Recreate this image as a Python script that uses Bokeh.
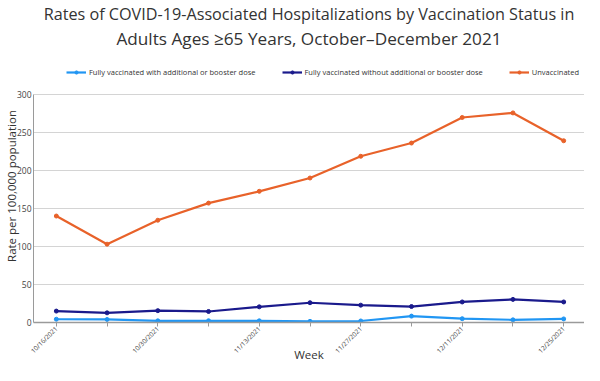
import math
from bokeh.plotting import figure
from bokeh.models import Title, Legend, LegendItem, FixedTicker, Range1d
from bokeh.embed import file_html
from bokeh.resources import INLINE

weeks = ["10/16/2021", "10/23/2021", "10/30/2021", "11/6/2021", "11/13/2021", "11/20/2021",
         "11/27/2021", "12/4/2021", "12/11/2021", "12/18/2021", "12/25/2021"]
booster = [4.3, 4.0, 2.2, 2.3, 2.2, 1.5, 2.0, 8.4, 5.0, 3.5, 4.7]
no_booster = [15.0, 12.7, 15.6, 14.5, 20.6, 26.0, 22.8, 21.0, 27.0, 30.4, 27.0]
unvaccinated = [140, 103, 134.5, 157, 172.5, 190, 218.6, 236, 269.6, 275.6, 239]
series_names = ["Fully vaccinated with additional or booster dose",
                "Fully vaccinated without additional or booster dose",
                "Unvaccinated"]
colors = ["#2196f3", "#1a1a8c", "#e8622a"]
y_ticks = [0, 50, 100, 150, 200, 250, 300]
title_lines = ["Rates of COVID-19-Associated Hospitalizations by Vaccination Status in",
               "Adults Ages \u226565 Years, October\u2013December 2021"]

FONT = "Open Sans"
x = list(range(len(weeks)))

# y range extends above 300 to leave room for the legend inside the frame
p = figure(width=584, height=365, output_backend="svg", toolbar_location=None,
           x_range=Range1d(-0.45, 10.41), y_range=Range1d(0, 359),
           min_border_left=0, min_border_right=0, min_border_top=0, min_border_bottom=0)
p.title = None
p.outline_line_color = None

items = []
for name, vals, c in zip(series_names, [booster, no_booster, unvaccinated], colors):
    r1 = p.line(x, vals, line_color=c, line_width=2.2)
    r2 = p.scatter(x, vals, size=4, fill_color=c, line_color=c)
    items.append(LegendItem(label=name, renderers=[r1, r2]))

p.xgrid.grid_line_color = None
p.ygrid.grid_line_color = "#d4d4d4"
p.ygrid.grid_line_width = 1.2

p.yaxis.ticker = FixedTicker(ticks=y_ticks)
p.yaxis.bounds = (0, 300)
p.yaxis.axis_line_color = "#9a9a9a"
p.yaxis.major_tick_line_color = None
p.yaxis.major_tick_out = 0
p.yaxis.major_tick_in = 0
p.yaxis.minor_tick_line_color = None
p.yaxis.major_label_text_font = FONT
p.yaxis.major_label_text_font_size = "8.5px"
p.yaxis.major_label_text_color = "#444444"
p.yaxis.major_label_standoff = 2
p.yaxis.axis_label = "Rate per 100,000 population"
p.yaxis.axis_label_text_font = FONT
p.yaxis.axis_label_text_font_size = "11.5px"
p.yaxis.axis_label_text_font_style = "normal"
p.yaxis.axis_label_text_color = "#333333"
p.yaxis.axis_label_standoff = -5

p.xaxis.ticker = FixedTicker(ticks=x)
p.xaxis.major_label_overrides = {i: (w if i % 2 == 0 else "") for i, w in enumerate(weeks)}
p.xaxis.major_label_orientation = math.pi / 4
p.xaxis.axis_line_color = "#9a9a9a"
p.xaxis.axis_line_width = 1.5
p.xaxis.major_tick_line_color = "#9a9a9a"
p.xaxis.major_tick_out = 4
p.xaxis.major_tick_in = 0
p.xaxis.minor_tick_line_color = None
p.xaxis.major_label_text_font = FONT
p.xaxis.major_label_text_font_size = "6.5px"
p.xaxis.major_label_text_color = "#444444"
p.xaxis.major_label_standoff = 1
p.xaxis.axis_label = "Week"
p.xaxis.axis_label_text_font = FONT
p.xaxis.axis_label_text_font_size = "11.5px"
p.xaxis.axis_label_text_font_style = "normal"
p.xaxis.axis_label_text_color = "#333333"
p.xaxis.axis_label_standoff = -14

legend = Legend(items=items, orientation="horizontal", location=(33, 245),
                label_text_font=FONT, label_text_font_size="7.5px", label_text_color="#333333",
                glyph_width=20, glyph_height=8, spacing=26, label_standoff=3,
                border_line_color=None, background_fill_alpha=0, margin=0, padding=2)
p.add_layout(legend, "center")

t2 = Title(text=title_lines[1], align="center",
           text_font=FONT, text_font_size="17.2px", text_font_style="normal",
           text_color="#333333", standoff=0)
t1 = Title(text=title_lines[0], align="center",
           text_font=FONT, text_font_size="16.2px", text_font_style="normal",
           text_color="#333333", standoff=0)
p.add_layout(t2, "above")
p.add_layout(t1, "above")

open("out.html", "w").write(file_html(p, INLINE))
